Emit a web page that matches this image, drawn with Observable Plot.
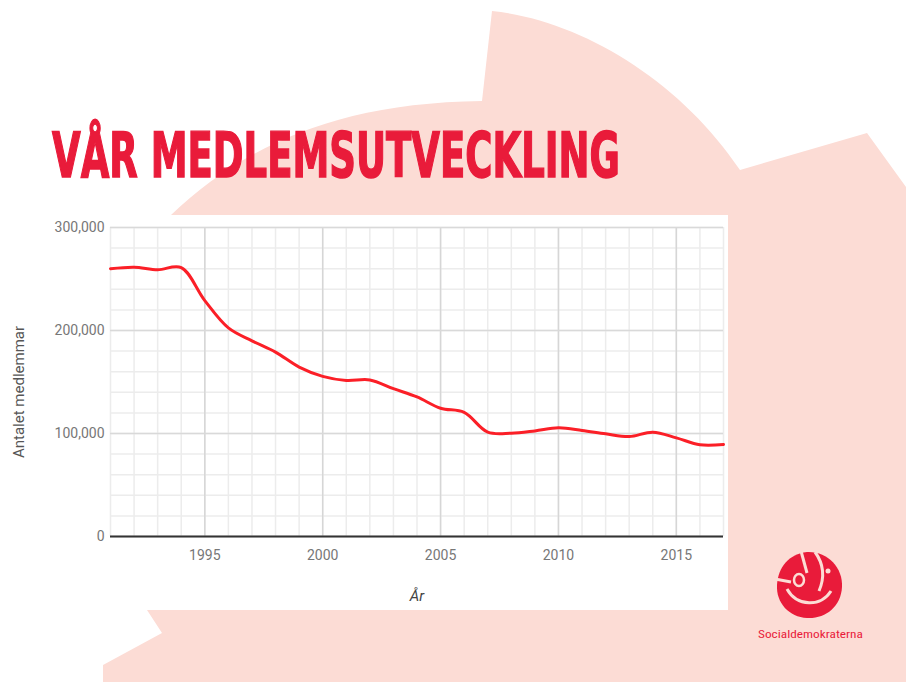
<!DOCTYPE html>
<html>
<head>
<meta charset="utf-8">
<script src="https://cdn.jsdelivr.net/npm/d3@7"></script>
<script src="https://cdn.jsdelivr.net/npm/@observablehq/plot@0.6"></script>
<style>
  html, body { margin: 0; padding: 0; background: #fff; }
  #page { position: relative; width: 906px; height: 682px; overflow: hidden; background: #fff; }
  #bg { position: absolute; left: 0; top: 0; }
  #chart { position: absolute; left: 0; top: 215px; }
</style>
</head>
<body>
<div id="page">
  <svg id="bg" width="906" height="682" viewBox="0 0 906 682">
    <path d="M171,215 C240,150 330,103 482,101 L492,11 C580,20 680,80 740,170 L867,133 L906,187 L906,682 L103,682 L103,665 L162,633 L147,610 Z" fill="#fcdcd5"/>
    <rect x="103" y="215" width="625" height="395" fill="#ffffff"/>
    <g id="titleWrap" transform="translate(52,177)">
      <text id="title" x="0" y="0"
        font-family="'DejaVu Sans Condensed', 'Liberation Sans Narrow', 'DejaVu Sans', sans-serif"
        font-weight="bold" font-size="62" fill="#e91b3a" stroke="#e91b3a" stroke-width="1.5">VÅR MEDLEMSUTVECKLING</text>
    </g>
    <!-- logo -->
    <g transform="translate(809,585)">
      <path d="M-2,-33 C18,-34 34,-18 33,2 C32,22 16,34 -2,33 C-20,32 -33,18 -32,0 C-31,-18 -20,-31 -2,-33 Z" fill="#e91b3a"/>
      <path d="M-22,4 C-12,22 12,22 22,6" fill="none" stroke="#fcdcd5" stroke-width="3"/>
      <path d="M-8,-34 L-2,-12" fill="none" stroke="#fcdcd5" stroke-width="3"/>
      <path d="M6,-33 C14,-22 16,-8 10,6" fill="none" stroke="#fcdcd5" stroke-width="3"/>
      <ellipse cx="-10" cy="-5" rx="5" ry="6" fill="none" stroke="#fcdcd5" stroke-width="2.5"/>
      <path d="M-34,-6 L-18,-3" fill="none" stroke="#fcdcd5" stroke-width="3"/>
      <circle cx="19" cy="-14" r="2.5" fill="#fcdcd5"/>
    </g>
    <text id="logoText" x="758" y="638"
      font-family="'Roboto Condensed', Roboto, sans-serif" font-size="11" fill="#e91b3a">Socialdemokraterna</text>
  </svg>
  <div id="chart"></div>
</div>
<script>
const years = [1991, 1992, 1993, 1994, 1995, 1996, 1997, 1998, 1999, 2000, 2001, 2002, 2003, 2004, 2005, 2006, 2007, 2008, 2009, 2010, 2011, 2012, 2013, 2014, 2015, 2016, 2017];
const members = [260000, 261500, 259000, 261000, 229000, 202500, 190000, 179000, 164500, 155500, 151500, 152000, 143500, 135500, 124500, 120500, 101300, 100300, 102500, 105500, 103000, 99700, 97000, 101300, 95800, 89000, 89300];
const xTickLabels = [1995, 2000, 2005, 2010, 2015];
const yTickLabels = [0, 100000, 200000, 300000];
const yMinorTicks = [0, 20000, 40000, 60000, 80000, 100000, 120000, 140000, 160000, 180000, 200000, 220000, 240000, 260000, 280000, 300000];
const xTitle = "År";
const yTitle = "Antalet medlemmar";

// fit condensed title / logo text to their widths in the reference
function fitWidth(el, target, ox, oy) {
  const w = el.getComputedTextLength();
  const s = target / w;
  return s;
}
const titleEl = document.getElementById("title");
const ts = fitWidth(titleEl, 568);
document.getElementById("titleWrap").setAttribute("transform", `translate(52,177) scale(${ts},1)`);
const logoEl = document.getElementById("logoText");
const ls = fitWidth(logoEl, 105);
logoEl.setAttribute("x", 0);
logoEl.setAttribute("y", 0);
logoEl.setAttribute("transform", `translate(758,638) scale(${ls},1)`);

const rows = years.map((yr, i) => ({year: yr, members: members[i]}));

const chart = Plot.plot({
  width: 728,
  height: 395,
  marginLeft: 110,
  marginRight: 5,
  marginTop: 12,
  marginBottom: 74,
  style: {background: "transparent", fontFamily: "Roboto, sans-serif", fontSize: "14px", color: "#777", overflow: "visible"},
  x: {domain: [1991, 2017]},
  y: {domain: [0, 300000]},
  marks: [
    Plot.ruleX(years, {stroke: "#ececec", strokeWidth: 1.5}),
    Plot.ruleY(yMinorTicks, {stroke: "#ececec", strokeWidth: 1.5}),
    Plot.ruleX(xTickLabels, {stroke: "#d6d6d6", strokeWidth: 1.5}),
    Plot.ruleY(yTickLabels, {stroke: "#d9d9d9", strokeWidth: 1.5}),
    Plot.axisX({ticks: xTickLabels, tickSize: 0, tickPadding: 14, tickFormat: d3.format("d"), label: null, fill: "#777"}),
    Plot.axisY({ticks: yTickLabels, tickSize: 0, tickPadding: 6, tickFormat: d3.format(","), label: null, fill: "#777"}),
    Plot.ruleY([0], {stroke: "#333", strokeWidth: 2}),
    Plot.line(rows, {x: "year", y: "members", curve: "catmull-rom", stroke: "#fb1f27", strokeWidth: 3}),
    Plot.text([xTitle], {text: d => d, frameAnchor: "bottom", dy: 60, lineAnchor: "middle", textAnchor: "middle", fill: "#444", fontStyle: "italic", fontSize: 15}),
    Plot.text([yTitle], {text: d => d, frameAnchor: "left", dx: -91, dy: 10, rotate: -90, lineAnchor: "middle", textAnchor: "middle", fill: "#555", fontSize: 15})
  ]
});
document.getElementById("chart").appendChild(chart);
</script>
</body>
</html>
